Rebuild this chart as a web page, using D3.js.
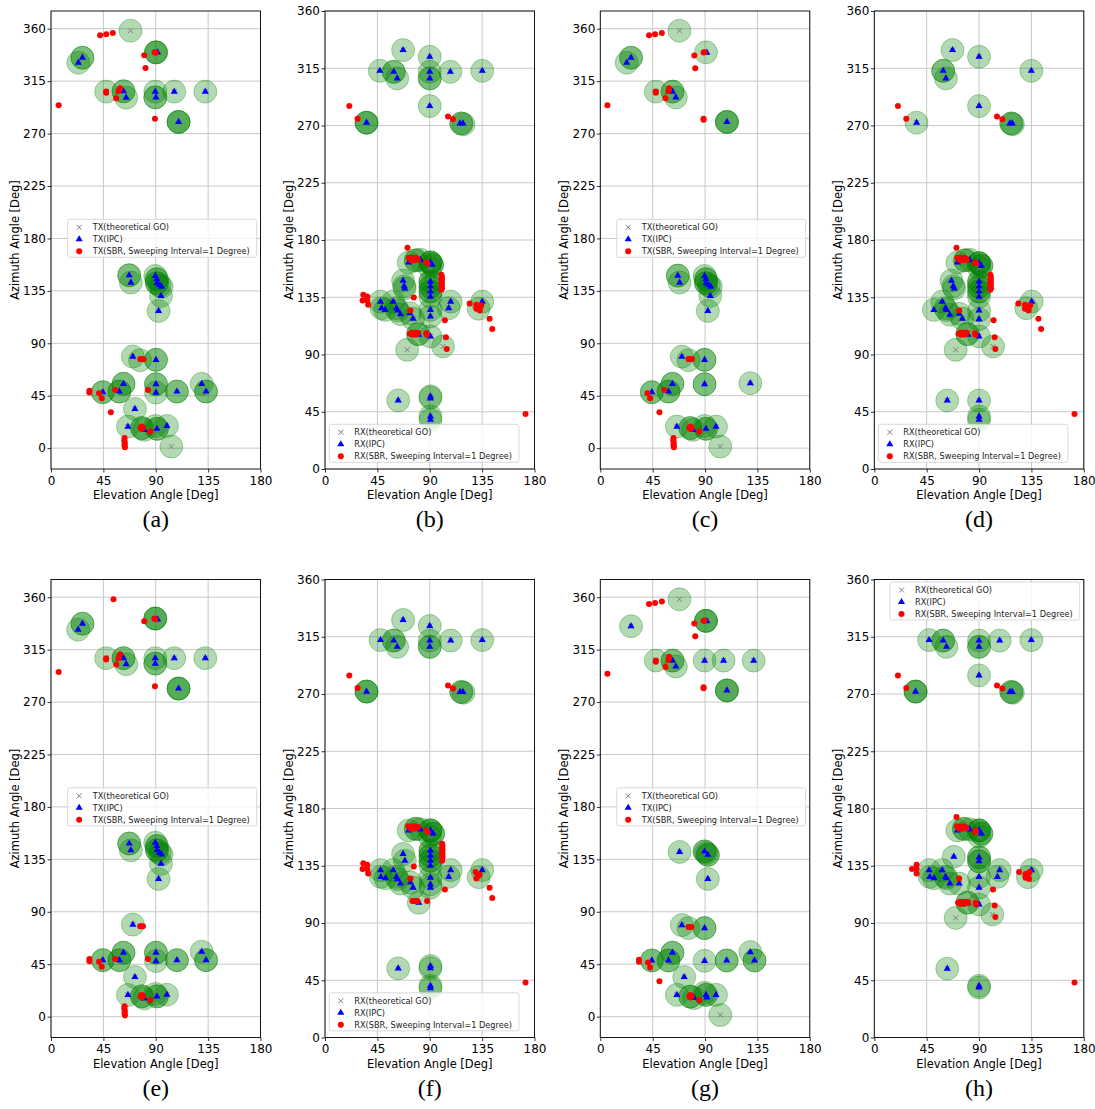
<!DOCTYPE html>
<html>
<head>
<meta charset="utf-8">
<script src="https://cdn.jsdelivr.net/npm/d3@7"></script>
<style>
body { margin: 0; background: #fff; }
text { font-family: "DejaVu Sans", sans-serif; }
</style>
</head>
<body>
<div id="chart"></div>
<script>
//
// Angle-of-departure / angle-of-arrival scatter, 8 panels
//

const elTicks = [0, 45, 90, 135, 180];
const azTicks = [0, 45, 90, 135, 180, 225, 270, 315, 360];
const panelLabels = ["(a)", "(b)", "(c)", "(d)", "(e)", "(f)", "(g)", "(h)"];

// GO points: [elevation, azimuth, paths at that spot]
var goA = [[68.3,358.3,1],[23.5,330.8,1],[27,335.1,2],[90.2,339.7,3],[47.4,306,1],[62.3,306.3,2],[64.6,300.8,1],
    [89.6,306,1],[89.6,301.1,2],[105.9,306,1],[132.6,306,1],[109.6,280,3],
    [67.2,148.4,2],[68.6,142.1,1],[89.6,147.8,1],[91,145,2],[91,141.6,2],[93.3,139.8,1],[95,138.6,1],[94.5,130.7,1],[92.4,117.8,1],
    [70.3,78.6,1],[76.5,75.5,1],[90.2,75.8,2],[44.5,48,2],[62.3,55.2,2],[58.8,48.6,2],[90.2,54.9,2],[90.2,47.7,1],
    [108.2,48.6,2],[129.5,55.2,1],[133.2,48.6,2],[72.1,33.7,1],[66.1,18.5,1],[78.1,17.2,2],[80.1,15.7,1],[91,16.6,2],
    [89.6,19,1],[99.6,19.1,1],[103.4,1.4,1]];
var ipcA = [[23.5,330.8],[27,335.1],[91.6,339.7],[62.3,306.3],[64.6,300.8],[89.6,306],[90.2,301.1],[105.9,306],[132.6,306],[109.6,280],
    [67.2,148.4],[68.6,142.1],[89.6,147.8],[91,145],[91,141.6],[93.3,139.8],[95,138.6],[94.5,130.7],[92.4,117.8],[70.3,78.6],[90.2,75.8],
    [44.5,48],[62.3,55.2],[58.8,48.6],[90.2,54.9],[90.2,47.7],[108.2,48.6],[129.5,55.2],[133.2,48.6],[72.1,33.7],[66.1,18.5],
    [80.1,15.7],[91,16.6],[99.6,19.1]];
var sbrA = [[42.2,354.3],[47.4,355.2],[53.1,356.3],[89,339.9],[90,339.3],[80.1,337.2],[81.2,326.3],[47.4,306],[47.4,305],[58,306.5],
    [59.4,308.8],[58.5,307.5],[56,300.3],[6.6,294.3],[89.3,282.8],[76.7,76.6],[78,76.6],[79.5,76.3],[33,49.2],[33,47.7],[41.3,47.2],
    [43.6,42.9],[55.1,50],[51.4,30.9],[83.3,50],[77,17.5],[78,16.5],[79,17.5],[78,18.5],[85.3,14.3],[63.2,8.6],[63,7],[63.2,5.5],
    [63.4,4],[63.2,2.5],[63.5,0.8]];

var goC = [[68,358.3,1],[22.7,330.8,1],[26.4,335.1,2],[90.8,339.7,1],[47.7,306,1],[62.1,306,2],[64.9,301,1],[108.8,280,3],
    [66.6,148.1,2],[68.1,142.1,1],[89.6,147.8,1],[90.8,145,2],[90.8,141.6,2],[93.3,139.8,1],[95,138.6,1],[94.5,130.7,1],[92.4,117.8,1],
    [70.1,78.6,1],[75.8,75.5,1],[89.6,75.8,2],[44.3,48,2],[62,55.2,2],[58.6,48.6,2],[89.6,54.9,2],[128.9,55.8,1],
    [65.8,18.5,1],[77.3,17.2,2],[79.6,15.7,1],[90.8,16.6,2],[89.6,19,1],[99.4,18.5,1],[103.1,1.4,1]];
var ipcC = [[22.7,330.8],[26.4,335.1],[91.5,339.5],[62.1,306],[64.9,301],[108.8,280],[66.6,148.1],[68.1,142.1],[89.6,147.8],
    [90.8,145],[90.8,141.6],[93.3,139.8],[95,138.6],[94.5,130.7],[92.4,117.8],[70.1,78.6],[89.6,75.8],[44.3,48],[62,55.2],
    [58.6,48.6],[89.6,54.9],[128.9,55.8],[65.8,18.5],[79.6,15.7],[90.8,16.6],[99.4,18.5]];
var sbrC = [[41.9,354.3],[47.1,355.2],[52.9,356.3],[88.7,339.5],[89.5,339.9],[80.8,337],[81.6,326],[47.7,306],[47.7,305],
    [58.6,306.5],[59.1,308.8],[58.8,307.5],[56,300.3],[6.1,294.3],[88.7,282.8],[88.7,281.8],[75.8,76.6],[77,76.6],[78.7,76.6],
    [40.5,47.2],[42.8,42.9],[54.9,50],[50.8,30.9],[76.5,17.5],[77.5,16.5],[78.5,17.5],[77.5,18.5],[85,14.3],[62.9,8.6],[62.7,7],
    [62.9,5.5],[63.1,4],[62.9,2.5],[63.2,0.8]];

var goE = [[23.3,332.1,1],[27,337.3,2],[89.6,341.7,3],[47.4,307.7,1],[62.3,307.7,2],[64.6,302.5,1],[89.6,307.7,1],[89.6,303,2],
    [105.9,307.7,1],[132.6,307.7,1],[109.6,281.6,3],[67.2,148.6,2],[68.6,142.8,1],[89.6,149.3,1],[91,146.4,2],[91,142.8,2],
    [93.3,140.5,1],[95,139.3,1],[94.5,131.2,1],[92.4,118.2,1],[70.3,79,1],[44.5,48.5,2],[62.3,54.9,2],[58.8,48.5,2],[90.2,54.9,2],
    [90.2,47.7,1],[108.2,48.5,2],[129.5,55.8,1],[133.2,48.5,2],[72.1,34,1],[66.1,18.6,1],[78.1,17.4,2],[80.1,15.7,1],[91,17.4,2],
    [89.6,19.5,1],[99.6,18.8,1]];
var ipcE = [[23.3,332.1],[27,337.3],[91.6,341],[62.3,307.7],[64.6,302.5],[89.6,307.7],[89.6,303],[105.9,307.7],[132.6,307.7],
    [109.6,281.6],[67.2,148.6],[68.6,142.8],[89.6,149.3],[91,146.4],[91,142.8],[93.3,140.5],[95,139.3],[94.5,131.2],[92.4,118.2],
    [70.3,79],[44.5,48.5],[62.3,54.9],[58.8,48.5],[90.2,54.9],[90.2,47.7],[108.2,48.5],[129.5,55.8],[133.2,48.5],[72.1,34],
    [66.1,18.6],[80.1,15.7],[91,17.4],[99.6,18.8]];
var sbrE = [[53.7,358.3],[88.8,341.7],[89.6,341],[80.1,339.4],[47.4,307.7],[47.4,306.5],[58,307.7],[59.4,311],[58.7,309.5],
    [56.1,302.3],[6.6,295.8],[89.3,283.6],[76.6,77.5],[77.8,77.5],[79,77.5],[33,49.5],[33,47.5],[41.3,47.2],[43.6,42.9],[55.1,49.5],
    [83.3,49.5],[77,17.5],[78,16.5],[79,17.5],[78,18.5],[85.3,14.3],[63.2,9],[63,7.5],[63.2,6],[63.4,4.5],[63.2,3],[63.5,1]];

var goG = [[68,358.2,1],[26.4,335.1,1],[90.8,339.7,3],[47.7,305.6,1],[62.1,305.6,2],[64.9,300.5,1],[89.6,305.6,1],[105.9,305.6,1],
    [131.8,305.6,1],[108.8,280,3],[68.1,141.4,1],[89.6,141.8,2],[92.4,138.9,2],[91,140.5,1],[92.4,118.2,1],[70.1,78.6,1],
    [75.8,76,1],[89.6,76,2],[44.3,48.2,2],[62,54.9,2],[58.6,48.2,2],[89.6,47.9,1],[108.6,48.2,2],[128.9,55.4,1],[132.5,48.2,2],
    [72.1,34,1],[65.8,18.7,1],[77.3,17.2,2],[80.7,16,1],[90.8,18.7,2],[89.6,20.5,1],[99.4,18.7,1],[103.1,1.4,1]];
var ipcG = [[26.4,335.1],[91.6,339.5],[62.1,305.6],[64.9,300.5],[89.6,305.6],[105.9,305.6],[131.8,305.6],[108.8,280],[68.1,141.4],
    [89.6,141.8],[92.4,138.9],[92.4,118.2],[70.1,78.6],[89.6,76],[44.3,48.2],[62,54.9],[58.6,48.2],[89.6,47.9],[108.6,48.2],
    [128.9,55.4],[132.5,48.2],[72.1,34],[65.8,18.7],[80.7,16],[90.8,18.7],[91.5,16.5],[99.4,18.7]];
var sbrG = [[41.9,354.2],[47.1,355.1],[52.9,356.3],[88.7,339.7],[89.6,340],[80.8,337.4],[81.6,326.4],[47.7,305.6],[47.7,304.5],
    [58.6,306.2],[59.1,309],[58.8,307.5],[56,300],[6.1,294.2],[88.7,282.8],[88.7,281.8],[75.8,76.9],[77,76.9],[78.2,76.9],
    [33.2,48.8],[33.2,47.1],[41,46.5],[42.8,42.1],[50.8,30.4],[76.5,17.5],[77.5,16.5],[78.5,17.5],[77.5,18.5],[85,14]];

var goB = [[67.1,329.3,1],[90,324,1],[47.1,313,1],[59.1,312.2,2],[62,307,1],[90,312.2,1],[90,307,2],[107.7,312.2,1],[135.1,313,1],
    [90,285.3,1],[35.7,272.2,3],[117.1,271.6,2],[119,271,1],
    [71.9,162.3,1],[78,164,2],[82,164.4,1],[90.6,162.3,3],[92,160.5,2],[90,158,1],[67.1,148.1,1],[68,143.7,1],[68.5,142,1],
    [90.6,147.3,2],[90.6,143.4,2],[90.6,139.5,2],[90.6,135.5,1],[90.6,125.1,1],[90.6,119.9,1],[90.6,104.2,1],
    [47.7,131.6,1],[48.6,126.4,1],[51.7,125.1,1],[58.6,131.6,1],[61.4,126.4,1],[62.3,124.6,1],[64.8,121.7,1],[72.9,122.5,1],[75.7,118.1,1],
    [108,131.6,1],[106.3,126.4,1],[135.1,131.6,1],[132,126,1],[80,106,2],[70.6,93.7,1],[101.4,96.3,1],
    [62.9,53.9,1],[90.6,57.1,1],[90.6,56,1],[90.6,41.3,1],[90.6,38.7,1]];
var ipcB = [[67.1,329.3],[90,324],[47.1,313],[59.1,312.2],[62,307],[90,312.2],[90,307],[107.7,312.2],[135.1,313],[90,285.3],
    [35.7,272.2],[116,271.6],[118.5,271.6],[71.9,162.3],[82,164.4],[90.6,162.3],[92,160.5],[67.1,148.1],[68,143.7],[68.5,142],
    [90.6,147.3],[90.6,143.4],[90.6,139.5],[90.6,135.5],[90.6,125.1],[90.6,119.9],[90.6,104.2],[47.7,131.6],[48.6,126.4],
    [51.7,125.1],[58.6,131.6],[61.4,126.4],[62.3,124.6],[64.8,121.7],[72.9,122.5],[75.7,118.1],[108,131.6],[106.3,126.4],
    [135.1,131.6],[80.5,105.5],[62.9,53.9],[90.6,57.1],[90.6,55.5],[90.6,41.3],[90.6,38.7]];
var sbrB = [[20.9,285.3],[28,275.4],[105.7,277],[110,274.9],[70.9,174],[72,166],[73.5,165],[75,166],[76.5,165],[78,166],
    [79.5,165],[74,164],[77,164],[80,164.5],[87,162.3],[88,161.5],[100,152.6],[100.5,151],[100,149.5],[100.5,148],[100,146.5],
    [100.5,145],[100,143.5],[100.5,142],[100,140.8],[32.9,136.9],[32.3,132.4],[36.3,135.6],[36.3,132.4],[37.1,129.2],[76.3,134.9],
    [73.4,124.6],[124.3,130],[130,129.2],[131.4,127.3],[132.9,126.1],[134.3,128.8],[130,126],[133,124.5],[103,116.9],[141.4,118.1],
    [143.7,110],[73,106.3],[74.5,107],[76,106.3],[77.5,107],[79,106.3],[80,107],[75,105.5],[78,105.5],[87,106.8],[87.5,105.5],
    [103.9,103.6],[104.6,94.4],[172.3,43.2]];

var goD = [[67.2,329.3,1],[90,324,1],[59.2,313,2],[61.5,307,1],[134.9,313,1],[90,285.3,1],[36.3,272.2,1],[117.7,271.6,2],[119,271,1],
    [71.4,162.3,1],[78,164,2],[82,164.4,1],[90,161.8,3],[92,159.7,2],[90,158,1],[66.3,148.1,1],[67.8,143.7,1],[68.7,142,1],
    [90,147.3,2],[90,143.4,2],[90,139.5,2],[90,135.5,1],[90,124.6,1],[90,117.8,1],[90,104.2,1],[51.2,125.1,1],[58.4,131.6,1],
    [61.2,126.4,1],[62,125,1],[64.9,121.3,1],[72.9,122,1],[75.7,118.1,1],[135.2,131.6,1],[130.6,126.4,1],[80,106,2],
    [69.9,93.7,1],[102,96.3,1],[62.7,53.9,1],[90,53.9,1],[90,41.3,1],[90,38.7,1]];
var ipcD = [[67.2,329.3],[90,324],[59.2,313],[61.5,307],[134.9,313],[90,285.3],[36.3,272.2],[116.5,271.6],[118.5,271.6],
    [71.4,162.3],[82,164.4],[90,161.8],[92,159.7],[66.3,148.1],[67.8,143.7],[68.7,142],[90,147.3],[90,143.4],[90,139.5],
    [90,135.5],[90,124.6],[90,117.8],[90,104.2],[51.2,125.1],[58.4,131.6],[61.2,126.4],[62,125],[64.9,121.3],[72.9,122],
    [75.7,118.1],[135.2,131.6],[80.5,105.5],[62.7,53.9],[90,53.9],[90,41.3],[90,38.7]];
var sbrD = [[20.3,285.3],[27.5,275.4],[105.4,277],[110,274.9],[70.6,174],[71.5,166],[73,165],[74.5,166],[76,165],[77.5,166],
    [79,165],[73.5,164],[76.5,164],[79.5,164.5],[86.5,162.3],[87.5,161.5],[99.7,152.6],[100.2,151],[99.7,149.5],[100.2,148],
    [99.7,146.5],[100.2,145],[99.7,143.5],[100.2,142],[99.7,140.8],[73,124.6],[123.8,130],[129.5,129.2],[131,127.3],[132.5,126.1],
    [134,128.8],[129.5,126],[132.5,124.5],[102.5,116.9],[141,118.1],[143.3,110],[72.5,106.3],[74,107],[75.5,106.3],[77,107],
    [78.5,106.3],[79.5,107],[74.5,105.5],[77.5,105.5],[86.5,106.8],[87,105.5],[103.4,103.6],[104,94.4],[172,43.2]];

var goF = [[67.1,328.2,1],[90,323.5,1],[47.7,312.4,1],[59.1,312,2],[62,307.1,1],[90,312,1],[90,307.1,2],[108,312,1],[135.1,312.4,1],
    [35.7,271.9,3],[117.1,271.6,2],[119,271,1],
    [71.9,162.8,1],[78,164,2],[82,163.6,1],[90.6,162.8,3],[92.9,160.2,2],[90,158,1],[67.1,144.3,1],[68.6,139,1],
    [90.6,146.9,2],[90.6,142.9,2],[90.6,139,2],[90.6,135,1],[90.6,125.7,1],[90.6,120.4,1],[90.6,117.8,1],
    [47.7,131.6,1],[48,126.3,1],[52,125.2,1],[58.6,131.6,1],[61.4,126.3,1],[62.3,124.5,1],[64.8,121,1],[73.4,121.8,1],[75.7,117.8,1],
    [108,131.6,1],[106.3,126.3,1],[135.1,131.6,1],[132,126,1],[80.6,105.9,1],
    [62.9,54.3,1],[90.6,56.2,1],[90.6,54.5,1],[90.6,40.6,1],[90.6,38.8,1]];
var ipcF = [[67.1,328.2],[90,323.5],[47.7,312.4],[59.1,312],[62,307.1],[90,312],[90,307.1],[108,312],[135.1,312.4],[35.7,271.9],
    [116,271.6],[118.5,271.6],[71.9,162.8],[82,163.6],[90.6,162.8],[92.9,160.2],[67.1,144.3],[68.6,139],[90.6,146.9],[90.6,142.9],
    [90.6,139],[90.6,135],[90.6,125.7],[90.6,120.4],[90.6,117.8],[47.7,131.6],[48,126.3],[52,125.2],[58.6,131.6],[61.4,126.3],
    [62.3,124.5],[64.8,121],[73.4,121.8],[75.7,117.8],[108,131.6],[106.3,126.3],[135.1,131.6],[80.6,105.9],[62.9,54.3],
    [90.6,56.2],[90.6,54.5],[90.6,40.6],[90.6,38.8]];
var sbrF = [[20.9,284.6],[28,274.8],[105.7,276.6],[110,274.4],[71.5,166],[73,165],[74.5,166],[76,165],[77.5,166],[79,165],
    [80,165.5],[74,164],[77,164],[87,162.8],[88,161.5],[100.6,152.2],[101,150.5],[100.6,149],[101,147.5],[100.6,146],[101,144.5],
    [100.6,143],[101,141.5],[100.6,139],[32.9,136.9],[32.3,132.4],[36.3,135.8],[36.3,132.4],[37.1,128.9],[76.3,134.4],[73.4,125],
    [129.4,130],[131.4,127],[132.9,128],[130,125],[103,116.4],[141.4,117.8],[143.7,109.7],[75.1,107.2],[76.5,107.2],[78,107.2],
    [79.5,107.2],[87.7,107.2],[172.3,43.2]];

var goH = [[47.1,312.4,1],[59.2,312,2],[62,307.1,1],[90,312,1],[90,307.1,2],[107.7,312,1],[134.9,312.4,1],[90,284.6,1],
    [35.5,271.9,3],[117.7,271.6,2],[119,271,1],
    [71.4,162.8,1],[77,164,2],[82,163.6,1],[90,162.8,3],[92,160.2,2],[90,158,1],[68.3,142.1,1],
    [90,141.6,2],[90,138.5,2],[90,126.3,1],[90,117.8,1],[90,104.6,1],
    [47.1,131.6,1],[47.7,126.3,1],[51.4,125.2,1],[58.3,131.6,1],[61.2,126.3,1],[62,125.2,1],[64.9,121,1],[72.9,121,1],
    [107.7,131.6,1],[105.8,126.3,1],[135.1,131.6,1],[132,126,1],[80,106,2],[69.9,94,1],[101.4,96.7,1],
    [62.7,54.1,1],[90,40.6,1],[90,39.3,1]];
var ipcH = [[47.1,312.4],[59.2,312],[62,307.1],[90,312],[90,307.1],[107.7,312],[134.9,312.4],[90,284.6],[35.5,271.9],
    [116.5,271.6],[118.5,271.6],[71.4,162.8],[82,163.6],[90,162.8],[92,160.2],[68.3,142.1],[90,141.6],[90,138.5],[90,126.3],
    [90,117.8],[90,104.6],[47.1,131.6],[47.7,126.3],[51.4,125.2],[58.3,131.6],[61.2,126.3],[62,125.2],[64.9,121],[72.9,121],
    [107.7,131.6],[105.8,126.3],[135.1,131.6],[80.5,105.5],[62.7,54.1],[90,40.6],[90,39.3]];
var sbrH = [[20.3,284.6],[27.5,274.8],[105.4,276.6],[110,274.4],[70.6,173.4],[71,166],[72.5,165],[74,166],[75.5,165],[77,166],
    [78.5,165],[73,164],[76,164],[79,164.5],[87.2,162.8],[86.5,161.5],[32.4,132.4],[36.3,135.8],[36.3,132.4],[36.3,128.9],
    [72.9,125],[124.3,130],[130,128.5],[132,127],[133.4,130],[130,125.5],[133,124.5],[102,116.4],[72,106],[73.5,106.8],
    [75,106],[76.5,106.8],[78,106],[79.5,106.8],[80.6,106],[74,105],[77,105],[87.2,105.9],[87.5,104.5],[103.4,103.8],[104,94.8],
    [172,43.2]];

// legend texts
var txNames = ["TX(theoretical GO)", "TX(IPC)", "TX(SBR, Sweeping Interval=1 Degree)"];
var rxNames = ["RX(theoretical GO)", "RX(IPC)", "RX(SBR, Sweeping Interval=1 Degree)"];

const _width = 1095;
const _height = 1109;
const _plotW = 209.5;
const _colLeft = [51, 325, 600.3, 874.3];
const _rowTop = [11, 579.5];
const _plotH = 458;
const _txDomain = [-17.9, 375.2];
const _rxDomain = [0, 360];

var _panels = [
    { go: goA, ipc: ipcA, sbr: sbrA, names: txNames, col: 0, row: 0, leg: [16.7, 208.3] },
    { go: goB, ipc: ipcB, sbr: sbrB, names: rxNames, col: 1, row: 0, leg: [4.3, 413.3] },
    { go: goC, ipc: ipcC, sbr: sbrC, names: txNames, col: 2, row: 0, leg: [16.4, 208.3] },
    { go: goD, ipc: ipcD, sbr: sbrD, names: rxNames, col: 3, row: 0, leg: [4, 413.3] },
    { go: goE, ipc: ipcE, sbr: sbrE, names: txNames, col: 0, row: 1, leg: [16.7, 208.3] },
    { go: goF, ipc: ipcF, sbr: sbrF, names: rxNames, col: 1, row: 1, leg: [4.3, 413.3] },
    { go: goG, ipc: ipcG, sbr: sbrG, names: txNames, col: 2, row: 1, leg: [16.4, 208.3] },
    { go: goH, ipc: ipcH, sbr: sbrH, names: rxNames, col: 3, row: 1, leg: [15.7, 2.5] }
];

var svg = d3.select("#chart").append("svg")
    .attr("width", _width)
    .attr("height", _height);

var triangle = d3.symbol().type(d3.symbolTriangle).size(22);

function drawX(g, cx, cy, s) {
    g.append("path")
        .attr("d", "M" + (cx - s) + "," + (cy - s) + "L" + (cx + s) + "," + (cy + s) +
            "M" + (cx - s) + "," + (cy + s) + "L" + (cx + s) + "," + (cy - s))
        .attr("stroke", "#808080")
        .attr("stroke-width", 1)
        .attr("fill", "none");
}

function drawPanel(p, idx) {
    var left = _colLeft[p.col];
    var top = _rowTop[p.row];
    var bottom = top + _plotH;
    var isTx = p.names === txNames;

    var x = d3.scaleLinear().domain([0, 180]).range([left, left + _plotW]);
    var y = d3.scaleLinear().domain(isTx ? _txDomain : _rxDomain).range([bottom, top]);

    var g = svg.append("g");

    // grid
    g.append("g").selectAll("line").data(elTicks).join("line")
        .attr("x1", d => x(d)).attr("x2", d => x(d))
        .attr("y1", top).attr("y2", bottom)
        .attr("stroke", "#c8c8c8").attr("stroke-width", 1);
    g.append("g").selectAll("line").data(azTicks).join("line")
        .attr("x1", left).attr("x2", left + _plotW)
        .attr("y1", d => y(d)).attr("y2", d => y(d))
        .attr("stroke", "#c8c8c8").attr("stroke-width", 1);

    // markers, clipped to the axes box
    var clipId = "clip" + idx;
    g.append("clipPath").attr("id", clipId).append("rect")
        .attr("x", left).attr("y", top).attr("width", _plotW).attr("height", _plotH);
    var marks = g.append("g").attr("clip-path", "url(#" + clipId + ")");

    var circles = [];
    p.go.forEach(function (d) {
        for (var k = 0; k < d[2]; k++) circles.push(d);
    });
    marks.append("g").selectAll("circle").data(circles).join("circle")
        .attr("cx", d => x(d[0]))
        .attr("cy", d => y(d[1]))
        .attr("r", 11.5)
        .attr("fill", "green")
        .attr("fill-opacity", 0.3)
        .attr("stroke", "green")
        .attr("stroke-opacity", 0.3)
        .attr("stroke-width", 1);

    var xg = marks.append("g");
    p.go.forEach(function (d) { drawX(xg, x(d[0]), y(d[1]), 2.5); });

    marks.append("g").selectAll("path").data(p.ipc).join("path")
        .attr("d", triangle)
        .attr("transform", d => "translate(" + x(d[0]) + "," + y(d[1]) + ")")
        .attr("fill", "blue");

    marks.append("g").selectAll("circle").data(p.sbr).join("circle")
        .attr("cx", d => x(d[0]))
        .attr("cy", d => y(d[1]))
        .attr("r", 3)
        .attr("fill", "red");

    // frame
    g.append("rect")
        .attr("x", left).attr("y", top).attr("width", _plotW).attr("height", _plotH)
        .attr("fill", "none").attr("stroke", "#000").attr("stroke-width", 0.9);

    // axes
    var xAxis = g.append("g")
        .attr("transform", "translate(0," + bottom + ")")
        .call(d3.axisBottom(x).tickValues(elTicks).tickSize(3.5).tickPadding(3.5));
    var yAxis = g.append("g")
        .attr("transform", "translate(" + left + ",0)")
        .call(d3.axisLeft(y).tickValues(azTicks).tickSize(3.5).tickPadding(1.5));
    [xAxis, yAxis].forEach(function (a) {
        a.select(".domain").remove();
        a.selectAll("text").style("font-size", "12px").attr("fill", "#000")
            .style("font-family", "DejaVu Sans");
        a.selectAll("line").attr("stroke", "#000").attr("stroke-width", 0.8);
    });

    g.append("text")
        .attr("x", left + _plotW / 2)
        .attr("y", bottom + 30)
        .style("text-anchor", "middle")
        .style("font-size", "11.5px")
        .text("Elevation Angle [Deg]");

    g.append("text")
        .attr("transform", "translate(" + (left - 32.5) + "," + (top + _plotH / 2) + ") rotate(-90)")
        .style("text-anchor", "middle")
        .style("font-size", "11.5px")
        .text("Azimuth Angle [Deg]");

    g.append("text")
        .attr("x", left + _plotW / 2)
        .attr("y", bottom + 58)
        .style("text-anchor", "middle")
        .style("font-family", "'Liberation Serif', serif")
        .style("font-size", "24px")
        .text(panelLabels[idx]);

    createLegend(g, p, left + p.leg[0], top + p.leg[1]);
}

function createLegend(g, p, lx, ly) {
    var lg = g.append("g").attr("transform", "translate(" + lx + "," + ly + ")");
    var box = lg.append("rect")
        .attr("rx", 2).attr("ry", 2)
        .attr("fill", "#fff").attr("fill-opacity", 0.8)
        .attr("stroke", "#d0d0d0").attr("stroke-width", 0.8);

    var maxW = 0;
    p.names.forEach(function (name, i) {
        var ty = 8 + i * 12;
        var t = lg.append("text")
            .attr("x", 25)
            .attr("y", ty)
            .attr("dy", "0.35em")
            .style("font-size", "8.2px")
            .attr("fill", "#222")
            .text(name);
        maxW = Math.max(maxW, t.node().getComputedTextLength());
        if (i == 0) drawX(lg, 11.5, ty, 2.5);
        else if (i == 1) lg.append("path").attr("d", triangle).attr("transform", "translate(11.5," + ty + ")").attr("fill", "blue");
        else lg.append("circle").attr("cx", 11.5).attr("cy", ty).attr("r", 3).attr("fill", "red");
    });
    box.attr("width", maxW + 32).attr("height", 38);
}

_panels.forEach(drawPanel);
</script>
</body>
</html>
